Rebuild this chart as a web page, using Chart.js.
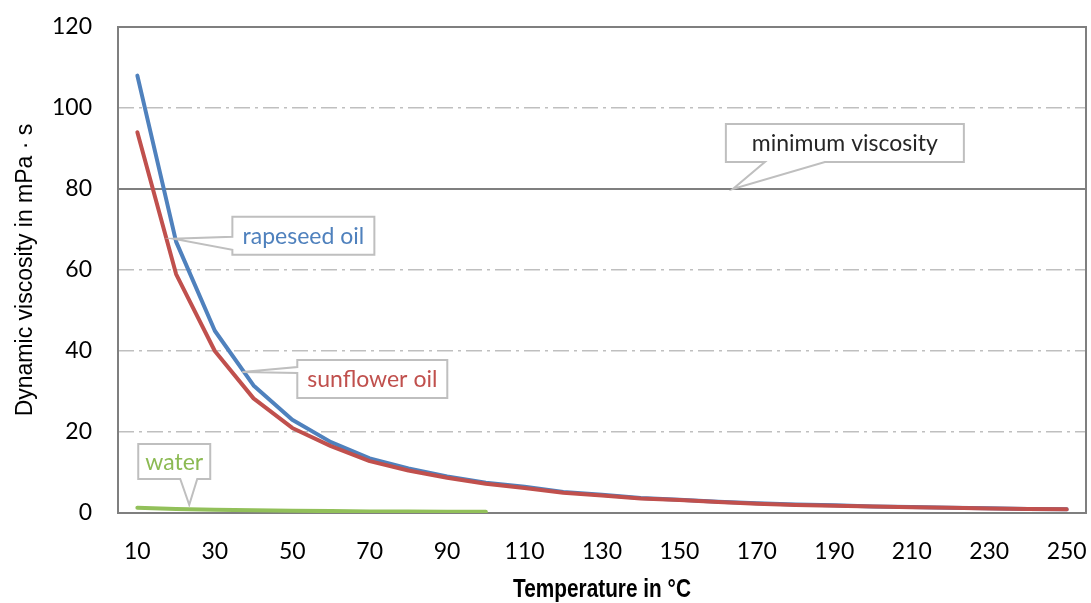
<!DOCTYPE html>
<html>
<head>
<meta charset="utf-8">
<script src="https://cdn.jsdelivr.net/npm/chart.js@4"></script>
<style>
  html, body { margin: 0; padding: 0; background: #fff; }
  #wrap { width: 1091px; height: 603px; }
</style>
</head>
<body>
<div id="wrap"><canvas id="viscosity"></canvas></div>
<script>
// Temperatures (°C)
const temperatures = [10, 20, 30, 40, 50, 60, 70, 80, 90, 100, 110, 120, 130, 140, 150, 160, 170, 180, 190, 200, 210, 220, 230, 240, 250];
// Dynamic viscosity in mPa·s
const rapeseedOil = [108, 67, 45, 31.5, 23, 17.5, 13.5, 11, 9, 7.5, 6.5, 5.2, 4.5, 3.7, 3.3, 2.8, 2.4, 2.1, 1.9, 1.6, 1.5, 1.3, 1.2, 1.0, 0.9];
const sunflowerOil = [94, 59, 40, 28.3, 21, 16.5, 12.8, 10.5, 8.7, 7.2, 6.2, 5.0, 4.3, 3.6, 3.2, 2.7, 2.3, 2.0, 1.8, 1.6, 1.4, 1.3, 1.1, 1.0, 0.9];
const water = [1.3, 1.0, 0.8, 0.65, 0.55, 0.47, 0.4, 0.35, 0.32, 0.28];
const minViscosity = 80;

const labelFont = "Lato, 'Open Sans', 'Liberation Sans', sans-serif";
const xTitle = 'Temperature in °C';

// callouts: tip given as (temperature, viscosity), box offset/size in px from the tip
const callouts = [
    { text: 'minimum viscosity', color: '#262626', t: 163.8, v: minViscosity, dx: -7, dy: -65, w: 238, h: 38, base: [39, 99] },
    { text: 'rapeseed oil', color: '#4f81bd', t: 19.3, v: 67.7, dx: 59, dy: -22, w: 142, h: 38, side: 'left', base: [20, 33] },
    { text: 'sunflower oil', color: '#c0504d', t: 37.1, v: 34.8, dx: 55, dy: -12, w: 150, h: 38, side: 'left', base: [7, 13] },
    { text: 'water', color: '#8cba53', t: 23.4, v: 2, dx: -51, dy: -61, w: 72, h: 35, base: [42, 59] }
];

// temperature -> pixel on the category axis
function tempToPixel(xScale, t) {
    const i = (t - temperatures[0]) / (temperatures[1] - temperatures[0]);
    return xScale.getPixelForValue(i);
}

const overlayPlugin = {
    id: 'overlay',
    beforeDatasetsDraw(chart) {
        const { ctx, chartArea: a, scales } = chart;
        const y = scales.y.getPixelForValue(minViscosity);
        ctx.save();
        ctx.strokeStyle = '#7f7f7f';
        ctx.lineWidth = 2;
        ctx.beginPath();
        ctx.moveTo(a.left, y);
        ctx.lineTo(a.right, y);
        ctx.stroke();
        // plot frame
        ctx.strokeRect(a.left, a.top, a.right - a.left, a.bottom - a.top);
        ctx.restore();
    },
    afterDatasetsDraw(chart) {
        const { ctx, scales, chartArea: a } = chart;
        ctx.save();
        ctx.font = '23px ' + labelFont;
        ctx.textBaseline = 'middle';
        ctx.textAlign = 'center';
        callouts.forEach(c => {
            const tx = tempToPixel(scales.x, c.t);
            const ty = scales.y.getPixelForValue(c.v);
            const bx = tx + c.dx, by = ty + c.dy;
            ctx.fillStyle = '#fff';
            ctx.strokeStyle = '#bfbfbf';
            ctx.lineWidth = 2;
            ctx.beginPath();
            if (c.side === 'left') {
                ctx.moveTo(bx, by);
                ctx.lineTo(bx + c.w, by);
                ctx.lineTo(bx + c.w, by + c.h);
                ctx.lineTo(bx, by + c.h);
                ctx.lineTo(bx, by + c.base[1]);
                ctx.lineTo(tx, ty);
                ctx.lineTo(bx, by + c.base[0]);
                ctx.closePath();
            } else {
                ctx.moveTo(bx, by);
                ctx.lineTo(bx + c.w, by);
                ctx.lineTo(bx + c.w, by + c.h);
                ctx.lineTo(bx + c.base[1], by + c.h);
                ctx.lineTo(tx, ty);
                ctx.lineTo(bx + c.base[0], by + c.h);
                ctx.lineTo(bx, by + c.h);
                ctx.closePath();
            }
            ctx.fill();
            ctx.stroke();
            ctx.fillStyle = c.color;
            ctx.fillText(c.text, bx + c.w / 2, by + c.h / 2 + 1);
        });

        // x axis title, condensed bold look
        ctx.fillStyle = '#000';
        ctx.font = "bold 26px 'Liberation Sans', sans-serif";
        ctx.translate((a.left + a.right) / 2, chart.height - 13);
        ctx.scale(0.8, 1);
        ctx.fillText(xTitle, 0, 0);
        ctx.restore();
    }
};

const ctx = document.getElementById('viscosity').getContext('2d');
new Chart(ctx, {
    type: 'line',
    data: {
        labels: temperatures,
        datasets: [
            { label: 'sunflower oil', data: sunflowerOil, borderColor: '#c0504d', order: 1 },
            { label: 'rapeseed oil', data: rapeseedOil, borderColor: '#4f81bd', order: 2 },
            { label: 'water', data: water, borderColor: '#92c05a', order: 0 }
        ]
    },
    options: {
        responsive: true,
        maintainAspectRatio: false,
        animation: false,
        layout: { padding: { top: 27, right: 5, left: 0, bottom: 0 } },
        elements: {
            line: { borderWidth: 4, tension: 0, borderCapStyle: 'round', borderJoinStyle: 'round' },
            point: { radius: 0 }
        },
        plugins: {
            legend: { display: false },
            tooltip: { enabled: false }
        },
        scales: {
            x: {
                offset: true,
                grid: { display: false },
                border: { display: false },
                ticks: {
                    autoSkip: false,
                    maxRotation: 0,
                    padding: 17,
                    color: '#000',
                    font: { size: 23, family: labelFont },
                    callback: function (value, index) {
                        return index % 2 === 0 ? this.getLabelForValue(value) : '';
                    }
                },
                title: { display: false },
                afterFit: scale => {
                    scale.height = 90;
                    scale.paddingLeft = 0;
                    scale.paddingRight = 0;
                }
            },
            y: {
                min: 0,
                max: 120,
                grid: {
                    color: ctx => ctx.tick.value === 0 || ctx.tick.value === 120 ? 'rgba(0,0,0,0)' : '#bfbfbf',
                    lineWidth: 1.5,
                    drawTicks: false
                },
                border: { display: false, dash: [16, 5, 3, 5] },
                ticks: {
                    stepSize: 20,
                    padding: 26,
                    color: '#000',
                    font: { size: 23, family: labelFont }
                },
                title: {
                    display: true,
                    text: 'Dynamic viscosity in mPa · s',
                    color: '#000',
                    font: { size: 23, family: "'Liberation Sans Narrow', 'Liberation Sans', sans-serif" },
                    padding: { top: 12, bottom: 0 }
                },
                afterFit: scale => {
                    scale.width = 118;
                    scale.paddingTop = 0;
                    scale.paddingBottom = 0;
                }
            }
        }
    },
    plugins: [overlayPlugin]
});
</script>
</body>
</html>
